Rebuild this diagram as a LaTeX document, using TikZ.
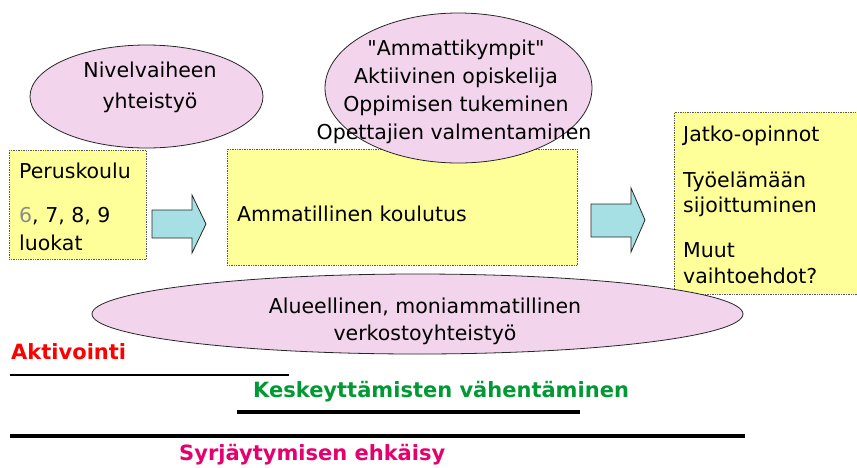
\documentclass[tikz,border=0pt]{standalone}
\usepackage{fontspec}
\setmainfont{DejaVu Sans}
\newfontfamily\qfont{DejaVu Sans}
\usetikzlibrary{shapes.geometric}
\definecolor{boxyellow}{RGB}{255,255,153}
\definecolor{ellpink}{RGB}{242,212,236}
\definecolor{arrowcyan}{RGB}{166,224,228}
\definecolor{actred}{RGB}{255,0,0}
\definecolor{keskgreen}{RGB}{0,153,51}
\definecolor{syrjpink}{RGB}{230,0,110}
\begin{document}
\begin{tikzpicture}[x=1pt,y=-1pt,
  boxshape/.style={fill=boxyellow, draw=black!65, densely dotted, line width=0.7pt, inner sep=0pt, anchor=north west},
  bubble/.style={ellipse, fill=ellpink, draw=black!85, line width=0.8pt, inner sep=0pt},
  blockarrow/.style={fill=arrowcyan, draw=black!85, line width=0.8pt, line join=miter},
  txt/.style={anchor=base west, inner sep=0pt, font=\fontsize{20.5}{25}\selectfont},
  ctxt/.style={anchor=base, inner sep=0pt, font=\fontsize{20.5}{25}\selectfont},
  boldlabel/.style={anchor=base west, inner sep=0pt, font=\fontsize{21}{25}\selectfont\bfseries},
  rulethin/.style={line width=2.6pt},
  rulemid/.style={line width=3.6pt},
  rulethick/.style={line width=4.4pt}
]
\useasboundingbox (0,0) rectangle (857,467);
\fill[white] (0,0) rectangle (857,467);

% boxes
\node[boxshape, minimum width=137pt, minimum height=109pt] (box1) at (9,150) {};
\node[boxshape, minimum width=350pt, minimum height=116pt] (box2) at (227,149) {};

% ellipses
\node[bubble, minimum width=233pt, minimum height=103pt] (ell1) at (146.5,96.5) {};
\node[bubble, minimum width=267pt, minimum height=150pt] (ell2) at (458.5,88) {};

% block arrows
\draw[blockarrow] (152,210) -- (192,210) -- (192,195) -- (206,224) -- (192,253) -- (192,238) -- (152,238) -- cycle;
\draw[blockarrow] (591,204) -- (631,204) -- (631,188) -- (645,220) -- (631,252) -- (631,237) -- (591,237) -- cycle;

% right box (cut by the page edge)
\node[boxshape, minimum width=190pt, minimum height=182pt] (box3) at (674,112) {};

% bottom ellipse
\node[bubble, minimum width=651pt, minimum height=80pt] (ell3) at (417.5,314) {};

% texts
\node[txt] (pk) at (19,178) {Peruskoulu};
\node[txt] (lk1) at (19,222) {\textcolor{black!45}{6}, 7, 8, 9};
\node[txt] (lk2) at (19,250) {luokat};

\node[txt] (ak) at (237,221) {Ammatillinen koulutus};

\node[txt] (j1) at (683,141) {Jatko-opinnot};
\node[txt] (j2) at (683,187) {Työelämään};
\node[txt] (j3) at (683,212) {sijoittuminen};
\node[txt] (j4) at (683,257) {Muut};
\node[txt] (j5) at (683,283) {vaihtoehdot?};

\node[ctxt] (n1) at (150,77) {Nivelvaiheen};
\node[ctxt] (n2) at (150,108) {yhteistyö};

\node[ctxt] (a1) at (456,55) {{\qfont"}Ammattikympit{\qfont"}};
\node[ctxt] (a2) at (456,83) {Aktiivinen opiskelija};
\node[ctxt] (a3) at (456,111) {Oppimisen tukeminen};
\node[ctxt] (a4) at (454,139) {Opettajien valmentaminen};

\node[ctxt] (v1) at (425,313) {Alueellinen, moniammatillinen};
\node[ctxt] (v2) at (425,340) {verkostoyhteistyö};

% bottom labels and rules
\node[boldlabel, text=actred] (akt) at (11,359) {Aktivointi};
\node[boldlabel, text=keskgreen] (kes) at (253,397) {Keskeyttämisten vähentäminen};
\node[boldlabel, text=syrjpink] (syr) at (179,460) {Syrjäytymisen ehkäisy};

\coordinate (r1a) at (10,375);  \coordinate (r1b) at (289,375);
\coordinate (r2a) at (237,412); \coordinate (r2b) at (580,412);
\coordinate (r3a) at (10,436);  \coordinate (r3b) at (745,436);
\draw[rulethin] (r1a) -- (r1b);
\draw[rulemid] (r2a) -- (r2b);
\draw[rulethick] (r3a) -- (r3b);
\end{tikzpicture}
\end{document}
